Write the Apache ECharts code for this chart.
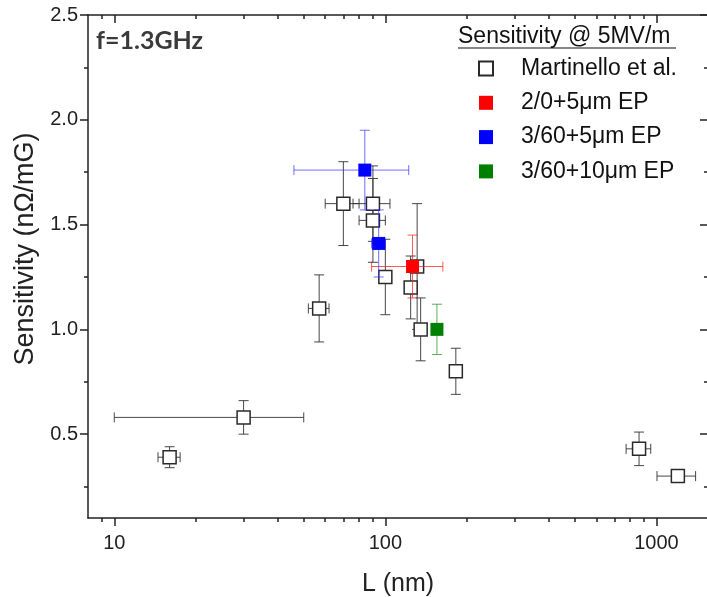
<!DOCTYPE html>
<html>
<head>
<meta charset="utf-8">
<script src="https://cdn.jsdelivr.net/npm/echarts@6/dist/echarts.min.js"></script>
</head>
<body style="margin:0">
<div id="container" style="width:707px;height:597px"></div>
<script>
// Martinello et al. (L in nm, sensitivity in nOhm/mG, symmetric errors)
var martL    = [16, 30, 57, 70, 90, 90, 100, 124, 131, 135, 182, 863, 1200];
var martS    = [0.39, 0.58, 1.10, 1.60, 1.60, 1.52, 1.25, 1.20, 1.30, 1.00, 0.80, 0.43, 0.30];
var martLerr = [1.5, 20, 5, 10, 14, 10, 4, 5, 0, 6, 0, 90, 195];
var martSerr = [0.05, 0.08, 0.16, 0.20, 0.18, 0.20, 0.18, 0.15, 0.30, 0.15, 0.11, 0.08, 0.02];

// 2/0 + 5um EP
var redL = [126], redS = [1.30], redLerr = [37], redSerr = [0.15];
// 3/60 + 5um EP
var blueL = [84, 94.5], blueS = [1.76, 1.41], blueLerr = [38, 5.5], blueSerr = [0.19, 0.16];
// 3/60 + 10um EP
var greenL = [155], greenS = [1.00], greenLerr = [0], greenSerr = [0.12];

var xMajor = [10, 100, 1000];
var xMinor = [9, 20, 30, 40, 50, 60, 70, 80, 90, 200, 300, 400, 500, 600, 700, 800, 900];
var yMajor = [0.5, 1.0, 1.5, 2.0, 2.5];
var yMinor = [0.25, 0.75, 1.25, 1.75, 2.25];

var legendNames = ['Martinello et al.', '2/0+5\u03bcm EP', '3/60+5\u03bcm EP', '3/60+10\u03bcm EP'];

var font = "'Liberation Sans', Arial, sans-serif";
var axisColor = '#222';

function pts(L, S, Le, Se) {
    return L.map(function (v, i) { return [v, S[i], Le[i], Se[i]]; });
}

// error bars with caps, drawn through the axes' coordinate system
function errBars(color, opacity) {
    return function (params, api) {
        var x = api.value(0), y = api.value(1), xe = api.value(2), ye = api.value(3);
        var c = api.coord([x, y]);
        var kids = [];
        var style = { stroke: color, lineWidth: 1, opacity: opacity };
        if (ye > 0) {
            var top = api.coord([x, y + ye]), bot = api.coord([x, y - ye]);
            kids.push({ type: 'line', shape: { x1: c[0], y1: top[1], x2: c[0], y2: bot[1] }, style: style });
            kids.push({ type: 'line', shape: { x1: c[0] - 5, y1: top[1], x2: c[0] + 5, y2: top[1] }, style: style });
            kids.push({ type: 'line', shape: { x1: c[0] - 5, y1: bot[1], x2: c[0] + 5, y2: bot[1] }, style: style });
        }
        if (xe > 0) {
            var l = api.coord([x - xe, y]), r = api.coord([x + xe, y]);
            kids.push({ type: 'line', shape: { x1: l[0], y1: c[1], x2: r[0], y2: c[1] }, style: style });
            kids.push({ type: 'line', shape: { x1: l[0], y1: c[1] - 5, x2: l[0], y2: c[1] + 5 }, style: style });
            kids.push({ type: 'line', shape: { x1: r[0], y1: c[1] - 5, x2: r[0], y2: c[1] + 5 }, style: style });
        }
        return { type: 'group', children: kids };
    };
}

function xAx(pos, ticks, len, inside, extra) {
    var a = {
        type: 'log', position: pos, min: 8, max: 1550,
        axisLine: { show: false },
        axisTick: { show: true, inside: inside, length: len, customValues: ticks, lineStyle: { color: axisColor, width: 1.5 } },
        axisLabel: { show: false },
        splitLine: { show: false }
    };
    return Object.assign(a, extra || {});
}
function yAx(pos, ticks, len, inside, extra) {
    var a = {
        type: 'value', position: pos, min: 0.1, max: 2.5,
        axisLine: { show: false },
        axisTick: { show: true, inside: inside, length: len, customValues: ticks, lineStyle: { color: axisColor, width: 1.5 } },
        axisLabel: { show: false },
        splitLine: { show: false }
    };
    return Object.assign(a, extra || {});
}

var myChart = echarts.init(document.getElementById('container'));

var option = {
    animation: false,
    textStyle: { fontFamily: font },
    grid: { left: 88, top: 15, width: 620, height: 503, outerBoundsMode: 'none', containLabel: false },
    xAxis: [
        xAx('bottom', xMajor, 8, false, {
            axisLine: { show: true, onZero: false, lineStyle: { color: axisColor, width: 1.5 } },
            axisLabel: {
                show: true, customValues: xMajor, fontSize: 20, margin: 15, color: '#222',
                formatter: function (v) { return String(Math.round(v)); }
            },
            name: 'L (nm)', nameLocation: 'middle', nameGap: 54,
            nameTextStyle: { fontSize: 25, color: '#222' }
        }),
        xAx('bottom', xMinor, 4, false),
        xAx('top', xMajor, 8, true, {
            axisLine: { show: true, onZero: false, lineStyle: { color: axisColor, width: 1.5 } }
        }),
        xAx('top', xMinor, 4, true)
    ],
    yAxis: [
        yAx('left', yMajor, 8, false, {
            axisLine: { show: true, onZero: false, lineStyle: { color: axisColor, width: 1.5 } },
            axisLabel: {
                show: true, customValues: yMajor, fontSize: 20, margin: 10, color: '#222',
                formatter: function (v) { return v.toFixed(1); }
            }
        }),
        yAx('left', yMinor, 4, false),
        yAx('right', yMajor, 8, true, {
            axisLine: { show: true, onZero: false, lineStyle: { color: axisColor, width: 1.5 } }
        }),
        yAx('right', yMinor, 4, true)
    ],
    legend: {
        data: legendNames,
        orient: 'vertical',
        left: 478, top: 57,
        padding: 0,
        itemWidth: 14, itemHeight: 14, itemGap: 11.3,
        icon: 'rect',
        selectedMode: false,
        textStyle: { fontSize: 23, color: '#111', lineHeight: 23, padding: [0, 0, 0, 23] }
    },
    graphic: [
        { type: 'text', left: 96, top: 28, style: { text: 'f=1.3GHz', font: "bold 25px Lato, 'Open Sans', sans-serif", fill: '#3a3a3a' } },
        { type: 'text', left: 458, top: 25, style: { text: 'Sensitivity @ 5MV/m', font: '23px ' + font, fill: '#111' } },
        { type: 'line', shape: { x1: 458, y1: 48, x2: 676, y2: 48 }, style: { stroke: '#111', lineWidth: 1.2 } },
        { type: 'text', x: 26, y: 249, rotation: Math.PI / 2,
          style: { text: 'Sensitivity (n\u03a9/mG)', font: '27px ' + font, fill: '#222', textAlign: 'center', textVerticalAlign: 'middle' } }
    ],
    series: [
        { type: 'custom', name: 'err0', data: pts(martL, martS, martLerr, martSerr), renderItem: errBars('#333', 0.9), z: 2 },
        { type: 'scatter', name: legendNames[0], data: pts(martL, martS, martLerr, martSerr), symbol: 'rect', symbolSize: 13,
          itemStyle: { color: '#fff', borderColor: '#2a2a2a', borderWidth: 1.5, opacity: 1 }, z: 3 },
        { type: 'custom', name: 'err1', data: pts(redL, redS, redLerr, redSerr), renderItem: errBars('#ff2020', 0.75), z: 4 },
        { type: 'custom', name: 'err2', data: pts(blueL, blueS, blueLerr, blueSerr), renderItem: errBars('#3030ff', 0.7), z: 4 },
        { type: 'custom', name: 'err3', data: pts(greenL, greenS, greenLerr, greenSerr), renderItem: errBars('#1a8a1a', 0.7), z: 4 },
        { type: 'scatter', name: legendNames[1], data: pts(redL, redS, redLerr, redSerr), symbol: 'rect', symbolSize: 13,
          itemStyle: { color: '#ff0000', opacity: 1 }, z: 5 },
        { type: 'scatter', name: legendNames[2], data: pts(blueL, blueS, blueLerr, blueSerr), symbol: 'rect', symbolSize: 13,
          itemStyle: { color: '#0000ff', opacity: 1 }, z: 5 },
        { type: 'scatter', name: legendNames[3], data: pts(greenL, greenS, greenLerr, greenSerr), symbol: 'rect', symbolSize: 13,
          itemStyle: { color: '#008000', opacity: 1 }, z: 5 }
    ]
};

myChart.setOption(option);
</script>
</body>
</html>
